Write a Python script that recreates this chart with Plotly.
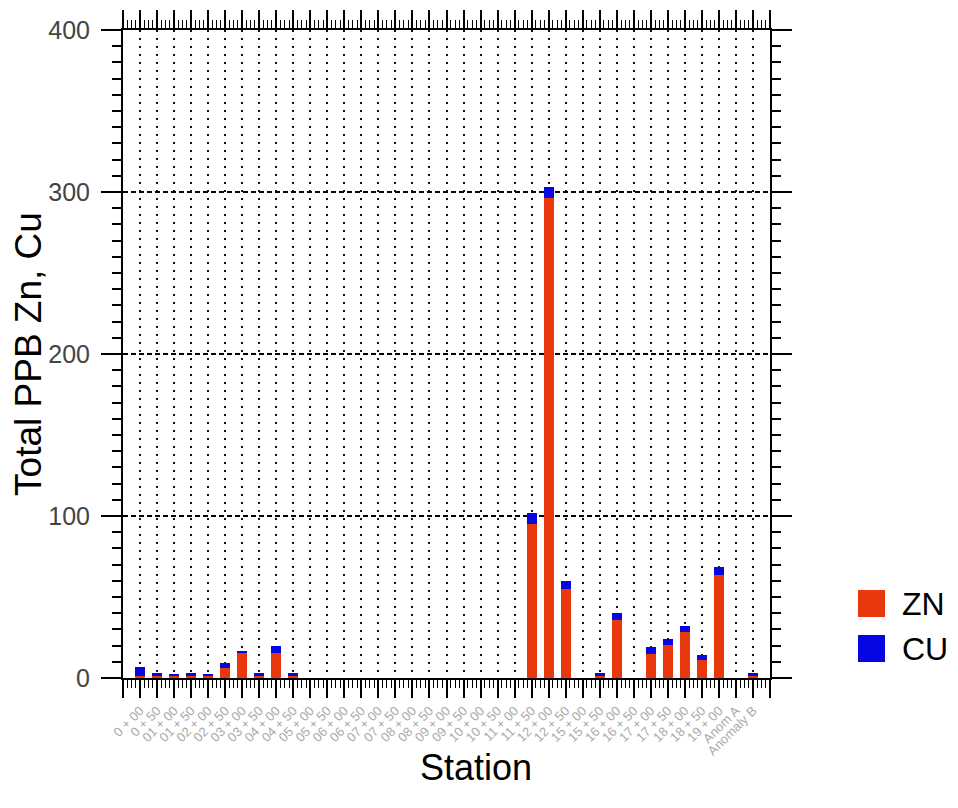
import plotly.graph_objects as go

stations = ["0 + 00", "0 + 50", "01 + 00", "01 + 50", "02 + 00", "02 + 50", "03 + 00", "03 + 50",
            "04 + 00", "04 + 50", "05 + 00", "05 + 50", "06 + 00", "06 + 50", "07 + 00", "07 + 50",
            "08 + 00", "08 + 50", "09 + 00", "09 + 50", "10 + 00", "10 + 50", "11 + 00", "11 + 50",
            "12 + 00", "12 + 50", "15 + 00", "15 + 50", "16 + 00", "16 + 50", "17 + 00", "17 + 50",
            "18 + 00", "18 + 50", "19 + 00", "Anom A", "Anomaly B"]

zn = [1, 1.5, 1, 1.5, 1, 6, 15.5, 1.5, 15.5, 1.5,
      0, 0, 0, 0, 0, 0, 0, 0, 0, 0, 0, 0, 0,
      95, 296, 55, 0, 1.5, 36, 0, 15, 20.5, 28.5, 11, 63.5, 0, 1.5]
cu = [6, 1.5, 1.5, 1.5, 1.5, 3, 1, 1.5, 4, 1.5,
      0, 0, 0, 0, 0, 0, 0, 0, 0, 0, 0, 0, 0,
      7, 7, 5, 0, 1.5, 4, 0, 4, 3.5, 3.5, 3, 5, 0, 1.5]

y_ticks = [0, 100, 200, 300, 400]

ZN_COLOR = "#E8380C"
CU_COLOR = "#0606E2"
FONT = "Liberation Sans, Arial, sans-serif"

# the page body has an 8px margin, so the figure is offset by 8px
L, T, PW, PH = 115, 22, 647, 648

xs = list(range(len(stations)))

fig = go.Figure()
fig.add_trace(go.Bar(x=xs, y=zn, name="ZN", marker=dict(color=ZN_COLOR, line=dict(width=0)),
                     width=0.6, showlegend=False))
fig.add_trace(go.Bar(x=xs, y=cu, name="CU", marker=dict(color=CU_COLOR, line=dict(width=0)),
                     width=0.6, showlegend=False))

tickvals = [-1] + xs + [len(stations)]
ticktext = [""] + stations + [""]

fig.update_layout(
    barmode="stack",
    width=958, height=808,
    margin=dict(l=L, r=958 - L - PW, t=T, b=808 - T - PH, autoexpand=False),
    paper_bgcolor="white", plot_bgcolor="white",
    font=dict(family=FONT, color="black"),
    xaxis=dict(
        range=[-1, len(stations)],
        tickmode="array", tickvals=tickvals, ticktext=ticktext,
        tickangle=-45, tickfont=dict(size=13, color="#aaaaaa", family=FONT),
        ticks="outside", ticklen=18, tickwidth=2, tickcolor="black",
        showline=True, linecolor="black", linewidth=2, mirror="ticks",
        showgrid=True, gridcolor="#111111", gridwidth=2, griddash="2px,6px",
        zeroline=False, automargin=False,
        minor=dict(tickmode="linear", tick0=0, dtick=0.25, ticks="outside", ticklen=8,
                   tickwidth=1.2, tickcolor="black", showgrid=False),
    ),
    yaxis=dict(
        range=[0, 400],
        tickmode="array", tickvals=y_ticks,
        tickfont=dict(size=25, color="#444444", family=FONT),
        ticks="outside", ticklen=20, tickwidth=2, tickcolor="black",
        ticklabelstandoff=6,
        showline=True, linecolor="black", linewidth=2, mirror="ticks",
        showgrid=True, gridcolor="black", gridwidth=1.5, griddash="5px,3px",
        zeroline=False, automargin=False,
        title=dict(text="Total PPB Zn, Cu", font=dict(size=37, color="black", family=FONT), standoff=0),
        minor=dict(tickmode="linear", tick0=0, dtick=10, ticks="outside", ticklen=9,
                   tickwidth=1.5, tickcolor="black", showgrid=False),
    ),
)

def px_x(p):
    return (p - 8 - L) / PW
def px_y(p):
    return (T + 8 + PH - p) / PH

# x-axis title (placed slightly right of centre as in the reference)
fig.add_annotation(text="Station", xref="paper", yref="paper", x=px_x(476), y=px_y(767),
                   xanchor="center", yanchor="middle", showarrow=False,
                   font=dict(size=36, color="black", family=FONT))

# legend drawn as squares + text
legend_items = [("ZN", ZN_COLOR, 590), ("CU", CU_COLOR, 635)]
for name, color, top in legend_items:
    fig.add_shape(type="rect", xref="paper", yref="paper",
                  x0=px_x(858), x1=px_x(885), y0=px_y(top + 27), y1=px_y(top),
                  fillcolor=color, line=dict(width=0))
    fig.add_annotation(text=name, xref="paper", yref="paper", x=px_x(900), y=px_y(top + 13.5),
                       xanchor="left", yanchor="middle", showarrow=False,
                       font=dict(size=32, color="black", family=FONT))

fig.write_html("out.html")
